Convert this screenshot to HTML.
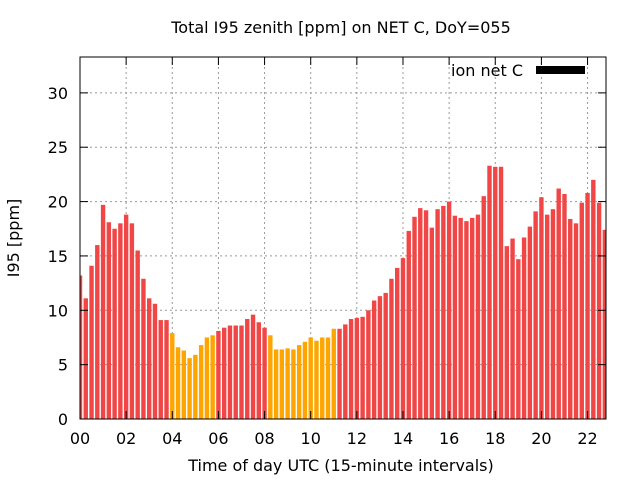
<!DOCTYPE html>
<html><head><meta charset="utf-8"><style>
body{margin:0;background:#fff}
svg{display:block;font-family:"DejaVu Sans","Liberation Sans",sans-serif}
</style></head><body>
<svg id="chart" width="640" height="480" viewBox="0 0 640 480">
<text x="341" y="33" font-size="16" text-anchor="middle">Total I95 zenith [ppm] on NET C, DoY=055</text>
<text transform="translate(19,238) rotate(-90)" font-size="16" text-anchor="middle">I95 [ppm]</text>
<text x="341" y="471" font-size="16" text-anchor="middle">Time of day UTC (15-minute intervals)</text>
<g id="grid"></g><g id="bars"></g><g id="axes"></g>
<text x="523" y="76" font-size="16" text-anchor="end">ion net C</text>
<rect x="536" y="66" width="49" height="8" fill="#000"/>
</svg>
<script>
const values=[13.2,11.1,14.1,16.0,19.7,18.1,17.5,18.0,18.8,18.0,15.5,12.9,11.1,10.6,9.1,9.1,7.9,6.6,6.3,5.6,5.9,6.8,7.5,7.7,8.1,8.4,8.6,8.6,8.6,9.2,9.6,8.9,8.4,7.7,6.4,6.4,6.5,6.4,6.8,7.1,7.5,7.2,7.5,7.5,8.3,8.3,8.7,9.2,9.3,9.4,10.0,10.9,11.3,11.6,12.9,13.9,14.8,17.3,18.6,19.4,19.2,17.6,19.3,19.6,20.0,18.7,18.5,18.2,18.5,18.8,20.5,23.3,23.2,23.2,15.9,16.6,14.7,16.7,17.7,19.1,20.4,18.8,19.3,21.2,20.7,18.4,18.0,19.9,20.8,22.0,19.9,17.4];
const flagged=[0,0,0,0,0,0,0,0,0,0,0,0,0,0,0,0,1,1,1,1,1,1,1,1,0,0,0,0,0,0,0,0,0,1,1,1,1,1,1,1,1,1,1,1,1,0,0,0,0,0,0,0,0,0,0,0,0,0,0,0,0,0,0,0,0,0,0,0,0,0,0,0,0,0,0,0,0,0,0,0,0,0,0,0,0,0,0,0,0,0,0,0];
const yTicks=[0,5,10,15,20,25,30];
const xTickLabels=["00","02","04","06","08","10","12","14","16","18","20","22"];
const L=80,R=606,T=57,B=419,YMAX=33.3,XMAX=91.2;
const NS="http://www.w3.org/2000/svg";
const y=v=>B-(v/YMAX)*(B-T);
const x=i=>L+(i/XMAX)*(R-L);
function mk(t,a,p){const e=document.createElementNS(NS,t);for(const k in a)e.setAttribute(k,a[k]);p.appendChild(e);return e;}
const grid=document.getElementById('grid'),bars=document.getElementById('bars'),axes=document.getElementById('axes');
const cp=mk('clipPath',{id:'cp'},document.getElementById('chart'));
mk('rect',{x:L,y:T,width:R-L,height:B-T},cp);
bars.setAttribute('clip-path','url(#cp)');
values.forEach((v,i)=>{
  const r=mk('rect',{x:x(i)-2.2,y:y(v),width:4.4,height:B-y(v),fill:flagged[i]?'#ffa500':'#f04646'},bars);
  
  
});
yTicks.forEach(t=>{
  const yy=y(t);
  if(t>0){const g=mk('line',{x1:L,x2:R,y1:yy,y2:yy,stroke:'#999','stroke-dasharray':'2,3'},grid);
  
  }
  mk('line',{x1:L,x2:L+8,y1:yy,y2:yy,stroke:'#000'},axes);
  mk('line',{x1:R,x2:R-8,y1:yy,y2:yy,stroke:'#000'},axes);
  const tx=mk('text',{x:L-12,y:yy+6,'font-size':16,'text-anchor':'end'},axes);
  tx.textContent=t;
  
  
});
xTickLabels.forEach((lab,k)=>{
  const xx=x(k*8);
  if(k>0){const g=mk('line',{x1:xx,x2:xx,y1:T,y2:B,stroke:'#999','stroke-dasharray':'2,3'},grid);
  
  }
  mk('line',{x1:xx,x2:xx,y1:B,y2:B-8,stroke:'#000'},axes);
  mk('line',{x1:xx,x2:xx,y1:T,y2:T+8,stroke:'#000'},axes);
  const tx=mk('text',{x:xx,y:B+25,'font-size':16,'text-anchor':'middle'},axes);
  tx.textContent=lab;
  
  
});
const fr=mk('rect',{x:L,y:T,width:R-L,height:B-T,fill:'none',stroke:'#000','stroke-width':1},axes);


</script>
</body></html>
